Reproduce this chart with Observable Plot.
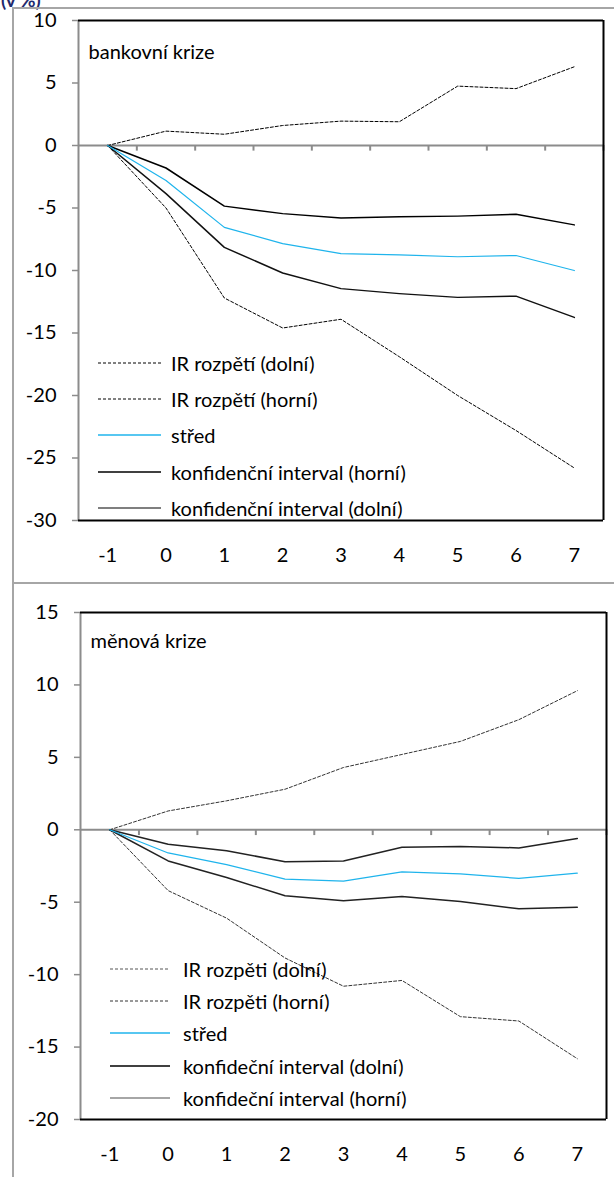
<!DOCTYPE html>
<html>
<head>
<meta charset="utf-8">
<script src="https://cdn.jsdelivr.net/npm/d3@7"></script>
<script src="https://cdn.jsdelivr.net/npm/@observablehq/plot@0.6"></script>
<style>
  html, body { margin: 0; padding: 0; background: #fff; }
  #root { position: relative; width: 614px; height: 1177px; overflow: hidden; font-family: Lato, "Noto Sans", sans-serif; }
  .frame-v { position: absolute; left: 12px; top: 7px; width: 2px; height: 1170px; background: #a6a6a6; }
  .frame-h { position: absolute; left: 12px; height: 2px; width: 602px; background: #a6a6a6; }
  .unit { position: absolute; left: 1px; top: -12px; font-weight: bold; font-size: 19px; color: #1f2a6e; }
  .legend { position: absolute; font-size: 20px; color: #000; }
  .legend .row { position: absolute; left: 0; white-space: nowrap; display: flex; align-items: center; }
  .legend svg { display: block; }
</style>
</head>
<body>
<div id="root">
  <div class="unit">(v %)</div>
</div>
<script>
// ---------- data ----------
const periods = [-1, 0, 1, 2, 3, 4, 5, 6, 7];

// bankovní krize
const bankIrLower = [0, -5.0, -12.2, -14.6, -13.9, -16.9, -20.0, -22.8, -25.8];
const bankIrUpper = [0, 1.15, 0.9, 1.6, 1.95, 1.9, 4.75, 4.55, 6.3];
const bankMid     = [0, -2.8, -6.55, -7.85, -8.65, -8.75, -8.9, -8.8, -10.0];
const bankCiUpper = [0, -1.8, -4.85, -5.45, -5.8, -5.7, -5.65, -5.5, -6.35];
const bankCiLower = [0, -3.85, -8.15, -10.2, -11.45, -11.85, -12.15, -12.05, -13.75];

// měnová krize
const curIrLower = [0, -4.2, -6.1, -8.85, -10.8, -10.4, -12.9, -13.2, -15.8];
const curIrUpper = [0, 1.3, 2.0, 2.8, 4.3, 5.2, 6.1, 7.6, 9.6];
const curMid     = [0, -1.6, -2.4, -3.4, -3.55, -2.9, -3.05, -3.35, -3.0];
const curCiUpper = [0, -1.0, -1.45, -2.2, -2.15, -1.2, -1.15, -1.25, -0.6];
const curCiLower = [0, -2.15, -3.3, -4.55, -4.9, -4.6, -4.95, -5.45, -5.35];

const bankTicksY = [-30, -25, -20, -15, -10, -5, 0, 5, 10];
const curTicksY  = [-20, -15, -10, -5, 0, 5, 10, 15];

const bankTitle = "bankovní krize";
const curTitle  = "měnová krize";

const bankLegend = ["IR rozpětí (dolní)", "IR rozpětí (horní)", "střed", "konfidenční interval (horní)", "konfidenční interval (dolní)"];
const curLegend  = ["IR rozpěti (dolní)", "IR rozpěti (horní)", "střed", "konfideční interval (dolní)", "konfideční interval (horní)"];

// ---------- helpers ----------
const FONT = 'Lato, "Noto Sans", sans-serif';
const FS = 20;
const BLUE = "#1fb4ec";
const AXIS = "#8c8c8c";
const rows = arr => periods.map((p, i) => ({period: p, value: arr[i]}));
const bounds = [-0.5, 0.5, 1.5, 2.5, 3.5, 4.5, 5.5, 6.5, 7.5];

function panel({height, marginTop, marginBottom, marginLeft, marginRight, yDomain, yTicks, tickLen, title, titleDy, series, xPad}) {
  const [lo, hi] = yDomain;
  return Plot.plot({
    width: 614, height, marginTop, marginBottom, marginLeft, marginRight,
    x: {domain: [-1.5, 7.5], axis: null},
    y: {domain: yDomain, axis: null},
    style: {fontFamily: FONT, fontSize: FS + "px", color: "#000", background: "transparent", overflow: "visible"},
    marks: [
      Plot.axisY({ticks: yTicks, tickFormat: d => String(d), tickSize: 6, tickPadding: 16, stroke: AXIS, strokeWidth: 1.5, fontSize: FS, label: null}),
      Plot.axisX({ticks: periods, tickFormat: d => String(d), tickSize: 0, tickPadding: xPad, fontSize: FS, label: null}),
      Plot.ruleY([0], {stroke: AXIS, strokeWidth: 2}),
      Plot.ruleX(bounds, {x: d => d, y1: 0, y2: tickLen, stroke: AXIS, strokeWidth: 2}),
      ...series,
      Plot.ruleX([-1.5], {stroke: AXIS, strokeWidth: 2}),
      Plot.ruleX([7.5], {stroke: "#000", strokeWidth: 2}),
      Plot.ruleY([hi], {stroke: "#000", strokeWidth: 2}),
      Plot.ruleY([lo], {stroke: "#000", strokeWidth: 2}),
      Plot.text([title], {frameAnchor: "top-left", dx: 10, dy: titleDy, textAnchor: "start", lineAnchor: "middle", fontSize: FS, fill: "#000"})
    ]
  });
}

const dashed = (arr, stroke = "#000") => Plot.lineY(rows(arr), {x: "period", y: "value", stroke, strokeWidth: 1, strokeDasharray: "3,2"});
const solid = (arr, stroke, w = 1.5) => Plot.lineY(rows(arr), {x: "period", y: "value", stroke, strokeWidth: w});

const root = document.getElementById("root");

// Panel 1
const p1 = panel({
  height: 583, marginTop: 20, marginBottom: 63, marginLeft: 78, marginRight: 11,
  yDomain: [-30, 10], yTicks: bankTicksY, tickLen: -0.45, title: bankTitle, titleDy: 32, xPad: 27,
  series: [
    dashed(bankIrLower), dashed(bankIrUpper),
    solid(bankCiUpper, "#000"), solid(bankCiLower, "#111"),
    solid(bankMid, BLUE, 1.25)
  ]
});
p1.style.position = "absolute"; p1.style.left = "0px"; p1.style.top = "0px";
root.appendChild(p1);

// Panel 2
const p2 = panel({
  height: 594, marginTop: 29, marginBottom: 58, marginLeft: 80, marginRight: 8,
  yDomain: [-20, 15], yTicks: curTicksY, tickLen: -0.4, title: curTitle, titleDy: 29, xPad: 27,
  series: [
    dashed(curIrLower, "#333"), dashed(curIrUpper, "#333"),
    solid(curCiUpper, "#222"), solid(curCiLower, "#222"),
    solid(curMid, BLUE, 1.25)
  ]
});
p2.style.position = "absolute"; p2.style.left = "0px"; p2.style.top = "583px";
root.appendChild(p2);

// Frame lines
const fv = document.createElement("div"); fv.className = "frame-v"; root.appendChild(fv);
[7, 582].forEach(t => { const h = document.createElement("div"); h.className = "frame-h"; h.style.top = t + "px"; root.appendChild(h); });

// Legends
function legend(labels, styles, left, top0, step, lineW, gap) {
  const box = document.createElement("div");
  box.className = "legend";
  box.style.left = left + "px"; box.style.top = "0px";
  labels.forEach((lab, i) => {
    const r = document.createElement("div");
    r.className = "row";
    r.style.top = (top0 + i * step - 12) + "px";
    r.style.height = "24px";
    const s = styles[i];
    r.innerHTML = `<svg width="${lineW}" height="24"><line x1="0" x2="${lineW}" y1="12" y2="12" stroke="${s.stroke}" stroke-width="${s.w}" ${s.dash ? `stroke-dasharray="${s.dash}"` : ""}/></svg><span style="margin-left:${gap}px">${lab}</span>`;
    box.appendChild(r);
  });
  root.appendChild(box);
}
legend(bankLegend, [
  {stroke: "#000", w: 1, dash: "3,2"}, {stroke: "#000", w: 1, dash: "3,2"},
  {stroke: BLUE, w: 1.5}, {stroke: "#000", w: 1.5}, {stroke: "#555", w: 1.5}
], 98, 363, 36.2, 63, 10);
legend(curLegend, [
  {stroke: "#555", w: 1, dash: "3,2"}, {stroke: "#333", w: 1, dash: "3,2"},
  {stroke: BLUE, w: 1.5}, {stroke: "#000", w: 1.5}, {stroke: "#888", w: 1.5}
], 110, 969, 32.2, 60, 13);
</script>
</body>
</html>
